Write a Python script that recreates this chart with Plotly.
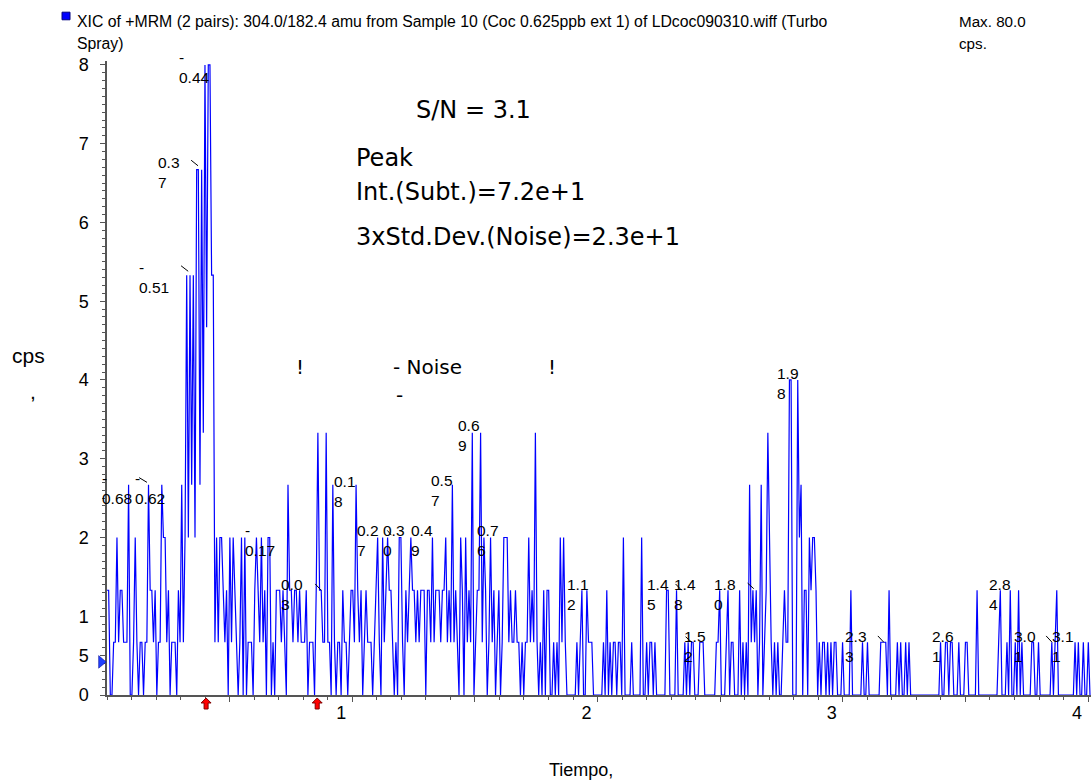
import numpy as np
import plotly.graph_objects as go

# ---------------- data ----------------
scan_start = 0.0        # min
scan_interval = 0.00677 # min between scans

seg_a = [1.33,1.33,0,0,0.67,0.67,2,0.67,1.33,1.33,
         0.67,0.67,0.67,2.67,0,0,0.67,2,0.67,0,
         0.67,0.67,0,0.67,0.67,2.67,1.33,1.33,0.67,1.33,
         0,0.67,0.67,2.67,2,2,0.67,1.33,0,0.67,
         0.67,0.67,0,1.33,0.67,2.67,0.67,2,5.33,2,
         5.33,2.67,5.33,2,6.67,6.67,2.67,6.67,3.33,8,
         4.67,8,8,5.33,5.33,0.67,2,0.67,2,2,
         1.33,0.67,1.33,0,2,0.67,2,1.33,0.67,0,
         0.67,2,0,2,0,0.67,0.67,0.67,0,1.33,
         2,1.33,0.67,2,0.67,1.33,0,2,2,0,
         0.67,0,1.33,1.33]
seg_b = [1.33,0.67,1.33,0.67,0,2.67,1.33,1.33,0.67,1.33,
         1.33,0.67,1.33,0.67,0.67,0.67,1.33,0,0.67,0.67,
         0.67,0,1.33,3.33,1.33,1.33,0.67,0.67,3.33,0.67,
         0.67,0,2.67,0.67,0,0.67,0.67,0,1.33,0.67,
         0.67,0,0.67,1.33,1.33,0.67,2.67,1.33,0.67,1.33,
         0,0.67,1.33,0.67,0.67,0.67,0,0.67,1.33,2,
         0.67,0,2,0.67,1.33,2,1.33,1.33,0.67,0,
         0.67,0,2,2,0.67,0,1.33,0.67,1.33,2,
         1.33,1.33,0.67,1.33,0.67,1.33,1.33,1.33,0,1.33,
         1.33,0.67,2,0.67,1.33,1.33,1.33,0.67,1.33,1.33]
seg_c = [2,0.67,1.33,0.67,2.67,0.67,1.33,0.67,0,2,
         1.33,0,2,0.67,1.33,0.67,3.33,0,0.67,1.33,
         1.33,3.33,0.67,2,1.33,0,0.67,2,0.67,1.33,
         0,0.67,1.33,0,0.67,2,2,2,0.67,1.33,
         0.67,0.67,1.33,0.67,0.67,0,0.67,0,0.67,0.67,
         2,0.67,1.33,0.67,3.33,0.67,0,0.67,0,1.33,
         0,1.33,1.33,0,0,0.67,0,0.67,0,2,
         0.67,2,0.67,0,0,0,0,0,0,0.67,
         0,0.67,1.33,0,0,1.33,0.67,0.67,0.67,0,
         0,0,0,0,0,0.67,0,1.33,0,0.67,
         0,0.67]
seg_d = [0.67,0,0.67,0.67,0,2,0,0,0,0,
         0.67,0,0,0,0,0,2,0,0,0.67,
         0,0.67,0.67,0,0.67,0,0,0,0,0,
         0,1.33,1.33,0,0,0,0,1.33,0,0,
         0,0,0.67,0,0.67,0,0.67,0.67,0,0,
         0,0.67,0.67,0.67,0,0,0,0,0,0,
         0,0.67,0.67,1.33,0,0,0,0.67,1.33,0,
         0.67,0.67,0,0,0,1.33,0,0.67,0,0.67,
         0,2.67,0.67,1.33,0.67,1.33,0,0.67,2.67,0,
         0.67,1.33,3.33,2,0.67,0,0.67,0,0.67,0,
         0,0.67,1.33]
seg_e = [0.67,0.67,4,4,0,0,0,4,2,2.67,
         0,1.33,1.33,0,2,1.33,2,2,1.33,0,
         0.67,0,0.67,0.67,0,0.67,0,0.67,0,0.67,
         0.67,0,0,0,0.67,0,0,0,0,1.33,
         0,0,0,0,0,0,0.67,0,0,0.67,
         0,0,0,0,0,0,0,0.67,0.67,0.67,
         0.67,0,1.33,0,0,0,0,0.67,0,0.67,
         0,0,0.67,0,0.67,0,0,0,0,0,
         0,0,0,0,0,0,0,0,0,0,
         0,0,0,0.67,0,0,0.67,0.67,0,0.67,
         0.67,0]
seg_f = [0,0,0.67,0,0,0,0.67,0.67,0,0,
         0,0,0,1.33,0,0,0,0,0,0,
         0,0,0,0,0,0,0.67,1.33,0,0,
         0,0.67,0,1.33,0,0,0.67,0,1.33,0,
         0.67,0,0,0,0,0,0.67,0.67,0,0,
         0.67,0,0,0,0,0,0,0,0.67,0,
         0.67,1.33,0,0,0,0,0,0,0,0,
         0,0,0.67,0,0.67,0,0,0.67,0,0,
         0.67,0]

intensity = np.array(seg_a + seg_b + seg_c + seg_d + seg_e + seg_f, dtype=float)
times = scan_start + scan_interval * np.arange(len(intensity))

x_tick_vals = [0.5, 1, 1.5, 2, 2.5, 3, 3.5, 4]
x_tick_text = ["", "1", "", "2", "", "3", "", "4"]
y_tick_vals = [0, 0.5, 1, 2, 3, 4, 5, 6, 7, 8]
y_tick_text = ["0", "5", "1", "2", "3", "4", "5", "6", "7", "8"]

marker_times = [0.404, 0.857]   # red arrows under the axis
threshold_level = 0.42          # blue triangle on the y axis

# peak labels: (text, time, intensity-position)
peak_labels = [
    ("-<br>0.44", 0.286, 7.97), ("0.3<br>7", 0.200, 6.64), ("-<br>0.51", 0.122, 5.30),
    ("-<br>0.62", 0.108, 2.62), ("-<br>0.17", 0.555, 1.96),
    ("0.0<br>3", 0.702, 1.27), ("0.1<br>8", 0.918, 2.59), ("0.2<br>7", 1.012, 1.96),
    ("0.3<br>0", 1.118, 1.96), ("0.4<br>9", 1.233, 1.96), ("0.5<br>7", 1.314, 2.60),
    ("0.6<br>9", 1.424, 3.30), ("0.7<br>6", 1.502, 1.96), ("1.1<br>2", 1.869, 1.27),
    ("1.4<br>5", 2.192, 1.27), ("1.4<br>8", 2.302, 1.27), ("1.5<br>2", 2.343, 0.61),
    ("1.8<br>0", 2.465, 1.27), ("1.9<br>8", 2.722, 3.95), ("2.3<br>3", 3.000, 0.61),
    ("2.6<br>1", 3.355, 0.61), ("2.8<br>4", 3.588, 1.27), ("3.0<br>1", 3.690, 0.61),
    ("3.1<br>1", 3.845, 0.61),
]
# small leader strokes (t0, v0, t1, v1)
leader_marks = [
    (0.343, 6.79, 0.371, 6.72), (0.302, 5.45, 0.331, 5.38), (0.131, 2.76, 0.163, 2.70),
    (0.849, 1.41, 0.873, 1.33), (1.143, 2.09, 1.159, 2.03), (2.318, 1.41, 2.343, 1.33),
    (2.359, 0.74, 2.384, 0.67), (2.612, 1.42, 2.637, 1.35), (3.143, 0.75, 3.167, 0.67),
    (3.829, 0.75, 3.853, 0.67),
]

# ---------------- figure ----------------
ARIAL = "Liberation Sans, Arial, sans-serif"
VERD = "DejaVu Sans, Verdana, sans-serif"
AXIS_COL = "#555555"
LABEL_SIZE = 15.5

fig = go.Figure()
fig.add_trace(go.Scatter(x=times, y=intensity, mode="lines",
                         line=dict(color="#0000ff", width=1.2),
                         hoverinfo="skip", showlegend=False))

ann = []
for txt, t, v in peak_labels:
    ann.append(dict(x=t, y=v, xref="x", yref="y", text=txt, showarrow=False,
                    xanchor="left", yanchor="middle", align="left",
                    font=dict(family=ARIAL, size=LABEL_SIZE, color="black")))
# label that sits left of the axis origin
ann.append(dict(x=-0.0075, y=2.62, xref="paper", yref="y", text="-<br>0.68", showarrow=False,
                xanchor="left", yanchor="middle", align="left",
                font=dict(family=ARIAL, size=LABEL_SIZE, color="black")))

big = [("S/N = 3.1", 1.253, 7.43), ("Peak", 1.008, 6.82),
       ("Int.(Subt.)=7.2e+1", 1.008, 6.39), ("3xStd.Dev.(Noise)=2.3e+1", 1.008, 5.82)]
for txt, t, v in big:
    ann.append(dict(x=t, y=v, xref="x", yref="y", text=txt, showarrow=False,
                    xanchor="left", yanchor="middle",
                    font=dict(family=VERD, size=24, color="black")))

noise = [("!", 0.763, 4.17), ("- Noise", 1.159, 4.17), ("-", 1.171, 3.81), ("!", 1.788, 4.17)]
for txt, t, v in noise:
    ann.append(dict(x=t, y=v, xref="x", yref="y", text=txt, showarrow=False,
                    xanchor="left", yanchor="middle",
                    font=dict(family=VERD, size=20, color="black")))

# header
hdr = [("XIC of +MRM (2 pairs): 304.0/182.4 amu from Sample 10 (Coc 0.625ppb ext 1) of LDcoc090310.wiff (Turbo", -0.0325, 1.063, 15.8),
       ("Spray)", -0.0325, 1.027, 15.8),
       ("Max. 80.0", 0.864, 1.063, 15.2), ("cps.", 0.864, 1.027, 15.2)]
for txt, x, y, fs in hdr:
    ann.append(dict(x=x, y=y, xref="paper", yref="paper", text=txt, showarrow=False,
                    xanchor="left", yanchor="middle",
                    font=dict(family=ARIAL, size=fs, color="black")))

ann.append(dict(x=-0.0986, y=0.536, xref="paper", yref="paper", text="cps", showarrow=False,
                xanchor="left", yanchor="middle", font=dict(family=ARIAL, size=21, color="black")))
ann.append(dict(x=-0.080, y=0.478, xref="paper", yref="paper", text=",", showarrow=False,
                xanchor="left", yanchor="middle", font=dict(family=ARIAL, size=21, color="black")))
ann.append(dict(x=0.4817, y=-0.118, xref="paper", yref="paper", text="Tiempo,", showarrow=False,
                xanchor="center", yanchor="middle", font=dict(family=ARIAL, size=18, color="black")))

shapes = [dict(type="rect", xref="paper", yref="paper", x0=-0.0457, x1=-0.0376, y0=1.065, y1=1.077,
               fillcolor="#0000ff", line=dict(color="#000080", width=1))]
for t0, v0, t1, v1 in leader_marks:
    shapes.append(dict(type="line", xref="x", yref="y", x0=t0, y0=v0, x1=t1, y1=v1,
                       line=dict(color="black", width=1)))
# red up-arrows below the time axis (x in data, y in paper units)
for t in marker_times:
    hw, sw = 0.0204, 0.0082
    p = (f"M {t},-0.0047 L {t+hw},-0.0126 L {t+sw},-0.0126 L {t+sw},-0.0221 "
         f"L {t-sw},-0.0221 L {t-sw},-0.0126 L {t-hw},-0.0126 Z")
    shapes.append(dict(type="path", xref="x", yref="paper", path=p,
                       fillcolor="#ff0000", line=dict(color="#800000", width=1), layer="above"))
# blue right-pointing triangle on the y axis
shapes.append(dict(type="path", xref="paper", yref="y",
                   path=f"M -0.0085,{threshold_level+0.08} L -0.0008,{threshold_level} "
                        f"L -0.0085,{threshold_level-0.08} Z",
                   fillcolor="#1f3fff", line=dict(color="#00008b", width=0.5), layer="above"))

fig.update_layout(
    width=1091, height=780,
    margin=dict(l=107, r=0, t=61, b=85),
    plot_bgcolor="white", paper_bgcolor="white",
    showlegend=False,
    annotations=ann, shapes=shapes,
    xaxis=dict(range=[0, 4.012], tickmode="array", tickvals=x_tick_vals, ticktext=x_tick_text,
               ticks="outside", ticklen=5, tickcolor=AXIS_COL, tickwidth=1,
               showline=True, linecolor=AXIS_COL, linewidth=1.5, showgrid=False, zeroline=False,
               tickfont=dict(family=ARIAL, size=18, color="black"),
               ticklabelshift=-11, ticklabelstandoff=-4,
               minor=dict(tickmode="linear", tick0=0, dtick=0.1, ticks="outside", ticklen=3,
                          tickcolor=AXIS_COL, showgrid=False)),
    yaxis=dict(range=[0, 8.05], tickmode="array", tickvals=y_tick_vals, ticktext=y_tick_text,
               ticks="outside", ticklen=5, tickcolor=AXIS_COL, tickwidth=1,
               showline=True, linecolor=AXIS_COL, linewidth=1.5, showgrid=False, zeroline=False,
               tickfont=dict(family=ARIAL, size=18, color="black"),
               ticklabelstandoff=8,
               minor=dict(tickmode="linear", tick0=0, dtick=0.1, ticks="outside", ticklen=3,
                          tickcolor=AXIS_COL, showgrid=False)),
)

fig.write_html("out.html")
